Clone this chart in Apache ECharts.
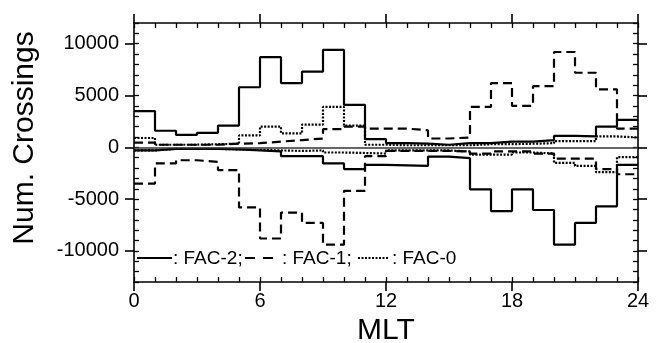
<!DOCTYPE html>
<html>
<head>
<meta charset="utf-8">
<script src="https://cdn.jsdelivr.net/npm/echarts@6/dist/echarts.min.js"></script>
<style>
html,body{margin:0;padding:0;background:#fff;}
#chart{width:661px;height:343px;}
</style>
</head>
<body>
<div id="chart"></div>
<script>
// MLT bins (hour start), 24 one-hour bins
const mltBins = [0,1,2,3,4,5,6,7,8,9,10,11,12,13,14,15,16,17,18,19,20,21,22,23];
const yMajorTicks = [-10000,-5000,0,5000,10000];
const xMajorTicks = [0,6,12,18,24];

const fac2Pos = [3500,1600,1200,1400,2100,5800,8700,6200,7300,9400,4100,800,400,350,250,400,400,550,550,700,1100,1050,2000,2650];
const fac2Neg = [-300,-150,-150,-150,-200,-300,-400,-850,-850,-1550,-2100,-1700,-1750,-1800,-900,-1050,-4050,-6150,-4050,-6050,-9400,-7300,-5700,-1700];
const fac1Pos = [450,250,250,250,350,400,550,700,850,1750,2000,1800,1800,1650,850,950,3900,6200,4000,5900,9200,7200,5600,1800];
const fac1Neg = [-3500,-1550,-1250,-1400,-2200,-5800,-8800,-6300,-7300,-9400,-4200,-850,-350,-350,-350,-400,-600,-400,-400,-600,-1100,-1100,-2100,-2600];
const fac0Pos = [900,250,250,300,350,1150,2000,1350,2200,3900,2100,250,200,200,200,200,300,300,350,400,600,600,1050,950];
const fac0Neg = [-300,-150,-150,-150,-200,-250,-300,-350,-300,-500,-550,-600,-300,-300,-300,-400,-700,-700,-500,-600,-1500,-1800,-2400,-950];

function bins(vals){
  const d = mltBins.map((x,i)=>[x, vals[i]]);
  d.push([24, vals[vals.length-1]]);
  return d;
}

const FONT = '"Liberation Sans", Arial, Helvetica, sans-serif';
const chart = echarts.init(document.getElementById('chart'), null, {renderer:'canvas'});

const grid = {left:134, right:23, top:23, bottom:61, containLabel:false, outerBoundsMode:'none'};
const axLine = {show:true, onZero:false, lineStyle:{color:'#000', width:1.6}};
const noLine = {show:false, onZero:false};
const plain = v => String(v);

function xMajor(pos, labels){
  return {type:'value', position:pos, min:0, max:24, interval:6,
    axisLine:axLine, splitLine:{show:false},
    axisTick:{show:true, inside:false, length:9, lineStyle:{color:'#000', width:1.6}},
    axisLabel:{show:labels, margin:9, fontSize:20, color:'#000', fontFamily:FONT, formatter:plain},
    name: labels ? 'MLT' : '', nameLocation:'middle', nameGap:31,
    nameTextStyle:{fontSize:30, color:'#000', fontFamily:FONT}};
}
function xMinor(pos){
  return {type:'value', position:pos, min:0, max:24, interval:1,
    axisLine:noLine, splitLine:{show:false},
    axisTick:{show:true, inside:true, length:5, lineStyle:{color:'#000', width:1.3}},
    axisLabel:{show:false}};
}
function yMajor(pos, labels){
  return {type:'value', position:pos, min:-13000, max:12000,
    axisLine:axLine, splitLine:{show:false},
    axisTick:{show:true, inside:false, length:9, customValues:yMajorTicks, lineStyle:{color:'#000', width:1.6}},
    axisLabel:{show:labels, customValues:yMajorTicks, margin:15, fontSize:20, color:'#000', fontFamily:FONT, formatter:plain}};
}
function yMinor(pos){
  return {type:'value', position:pos, min:-13000, max:12000, interval:1000,
    axisLine:noLine, splitLine:{show:false},
    axisTick:{show:true, inside:true, length:5, lineStyle:{color:'#000', width:1.3}},
    axisLabel:{show:false}};
}

function ser(name, data, dash){
  return {name:name, type:'line', step:'end', data:bins(data), showSymbol:false, symbol:'none',
    xAxisIndex:0, yAxisIndex:0, animation:false,
    lineStyle:{color:'#000', width:2.2, type:dash}};
}

const option = {
  animation:false,
  grid:grid,
  xAxis:[xMajor('bottom', true), xMajor('top', false), xMinor('bottom'), xMinor('top')],
  yAxis:[yMajor('left', true), yMajor('right', false), yMinor('left'), yMinor('right')],
  series:[
    Object.assign(ser('FAC-2 pos', fac2Pos, 'solid'), {
      markLine:{silent:true, symbol:'none', label:{show:false},
        lineStyle:{color:'#333', width:1.6, type:'solid'}, data:[{yAxis:0}]}}),
    ser('FAC-2 neg', fac2Neg, 'solid'),
    ser('FAC-1 pos', fac1Pos, [9,5]),
    ser('FAC-1 neg', fac1Neg, [9,5]),
    ser('FAC-0 pos', fac0Pos, [2,1.5]),
    ser('FAC-0 neg', fac0Neg, [2,1.5])
  ],
  graphic:[
    {type:'text', x:25, y:138, rotation:Math.PI/2, style:{text:'Num. Crossings', font:'30px '+FONT, fill:'#000', textAlign:'center', textVerticalAlign:'middle'}},
    {type:'line', shape:{x1:137, y1:258, x2:172, y2:258}, style:{stroke:'#000', lineWidth:2.2}},
    {type:'text', x:173, y:259, style:{text:': FAC-2;', font:'19px '+FONT, fill:'#000', textVerticalAlign:'middle'}},
    {type:'line', shape:{x1:245, y1:258, x2:274, y2:258}, style:{stroke:'#000', lineWidth:2.2, lineDash:[10,8]}},
    {type:'text', x:282, y:259, style:{text:': FAC-1;', font:'19px '+FONT, fill:'#000', textVerticalAlign:'middle'}},
    {type:'line', shape:{x1:358, y1:258, x2:389, y2:258}, style:{stroke:'#000', lineWidth:2.2, lineDash:[2,1.5]}},
    {type:'text', x:392, y:259, style:{text:': FAC-0', font:'19px '+FONT, fill:'#000', textVerticalAlign:'middle'}}
  ]
};
chart.setOption(option);
</script>
</body>
</html>
